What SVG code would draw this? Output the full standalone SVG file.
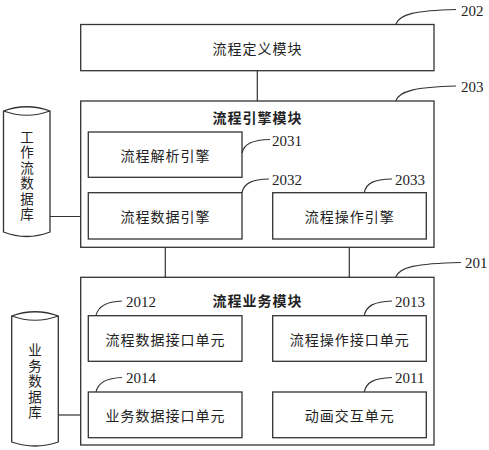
<svg xmlns="http://www.w3.org/2000/svg" width="489" height="450" viewBox="0 0 489 450">
<style>
.box{fill:#fff;stroke:#333;stroke-width:1.3}
.ln{fill:none;stroke:#333;stroke-width:1.2}
.t{font-family:"Noto Sans CJK SC","Noto Sans CJK JP",sans-serif;font-size:14px;fill:#222;text-anchor:middle;dominant-baseline:central;letter-spacing:1px}
.b{font-weight:bold}
.n{font-family:"Liberation Serif",serif;font-size:15px;fill:#222}
.v{font-family:"Noto Sans CJK SC","Noto Sans CJK JP",sans-serif;font-size:13.5px;fill:#222;text-anchor:middle;writing-mode:vertical-rl;letter-spacing:2px}
</style>
<rect width="489" height="450" fill="#fff"/>
<g id="connectors">
<path class="ln" d="M257.3 70.7V101"/>
<path class="ln" d="M165.3 177.3V192.7"/>
<path class="ln" d="M242 216H272.7"/>
<path class="ln" d="M50 216.5H88.3"/>
<path class="ln" d="M165.3 239V315.7"/>
<path class="ln" d="M349.3 239V315.7"/>
<path class="ln" d="M349.3 361V392.3"/>
<path class="ln" d="M242 339H253.5V415H272.7"/>
<path class="ln" d="M242 415H253.5"/>
<path class="ln" d="M57.5 415H88.3"/>
</g>
<g id="n202">
<rect class="box" x="80.7" y="24.5" width="353.3" height="46.2"/>
<text class="t" x="257.5" y="47.5">流程定义模块</text>
<path class="ln" d="M395.7 24.5C399 14 416 10.5 456 9.5"/>
<text class="n" x="461" y="15.5">202</text>
</g>
<g id="n203">
<rect class="box" x="80.7" y="101" width="353.3" height="146.3"/>
<text class="t b" x="257.5" y="116.7">流程引擎模块</text>
<path class="ln" d="M395.7 101C399 91 416 87 456 86"/>
<text class="n" x="461" y="91.5">203</text>
</g>
<g id="n2031">
<rect class="box" x="88.3" y="132" width="153.7" height="45.3"/>
<text class="t" x="165.5" y="154.6">流程解析引擎</text>
<path class="ln" d="M242 153C244 144 252 140 270 139.5"/>
<text class="n" x="272" y="145.5">2031</text>
</g>
<g id="n2032">
<rect class="box" x="88.3" y="192.7" width="153.7" height="46.3"/>
<text class="t" x="165.5" y="216">流程数据引擎</text>
<path class="ln" d="M242 192.7C244 183 252 179.5 269 179"/>
<text class="n" x="272" y="184.5">2032</text>
</g>
<g id="n2033">
<rect class="box" x="272.7" y="192.7" width="153.6" height="46.3"/>
<text class="t" x="349.7" y="216">流程操作引擎</text>
<path class="ln" d="M364.3 192.7C366 183 374 179.5 392 179"/>
<text class="n" x="395" y="184.5">2033</text>
</g>
<g id="n201">
<rect class="box" x="80.7" y="277.3" width="353.3" height="167.7"/>
<text class="t b" x="257.5" y="300">流程业务模块</text>
<path class="ln" d="M395.7 277.3C399 267 416 263.5 461 262.5"/>
<text class="n" x="465" y="268">201</text>
</g>
<g id="n2012">
<rect class="box" x="88.3" y="315.7" width="153.7" height="45.6"/>
<text class="t" x="165.5" y="338.5">流程数据接口单元</text>
<path class="ln" d="M96 315.7C98 306 106 301.5 122 301"/>
<text class="n" x="126" y="306.5">2012</text>
</g>
<g id="n2013">
<rect class="box" x="272.7" y="315.7" width="153.6" height="45.6"/>
<text class="t" x="349.7" y="338.5">流程操作接口单元</text>
<path class="ln" d="M364.3 315.7C366 306 374 301.5 392 301"/>
<text class="n" x="395" y="306.5">2013</text>
</g>
<g id="n2014">
<rect class="box" x="88.3" y="392" width="153.7" height="45.7"/>
<text class="t" x="165.5" y="415">业务数据接口单元</text>
<path class="ln" d="M96 392C98 382.5 106 378 122 377.5"/>
<text class="n" x="126" y="383">2014</text>
</g>
<g id="n2011">
<rect class="box" x="272.7" y="392" width="153.6" height="45.7"/>
<text class="t" x="349.7" y="415">动画交互单元</text>
<path class="ln" d="M364.3 392C366 382.5 374 378 392 377.5"/>
<text class="n" x="395" y="383">2011</text>
</g>
<g id="db-workflow">
<path class="box" d="M3.5 111Q26.7 102.5 50 111V232Q26.7 241 3.5 232Z"/>
<path class="ln" d="M3.5 111Q26.7 119.5 50 111"/>
<text class="v" x="27" y="176.5">工作流数据库</text>
</g>
<g id="db-business">
<path class="box" d="M11.7 316Q35 307.5 58.3 316V442Q35 450 11.7 442Z"/>
<path class="ln" d="M11.7 316Q35 324.5 58.3 316"/>
<text class="v" x="35" y="382">业务数据库</text>
</g>
</svg>
